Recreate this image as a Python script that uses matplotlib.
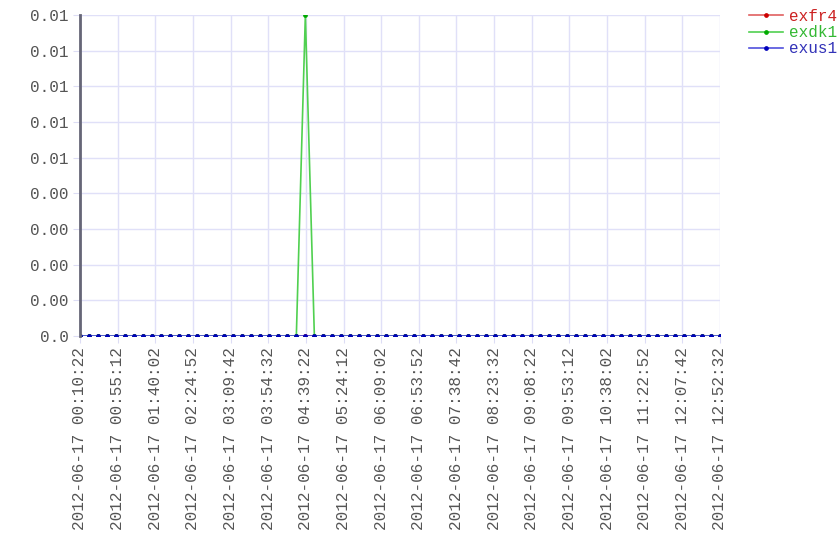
import numpy as np
import pandas as pd
import matplotlib
matplotlib.use('Agg')
import matplotlib.pyplot as plt

# series: 72 samples between first and last tick, one spike on exdk1
start = "2012-06-17 00:10:22"
end = "2012-06-17 12:52:32"
n_points = 72
exfr4 = [0.0] * n_points
exdk1 = [0.0] * n_points
exdk1[25] = 0.009
exus1 = [0.0] * n_points

series_names = ["exfr4", "exdk1", "exus1"]
line_colors = ["#e06060", "#50d050", "#5050dd"]
mark_colors = ["#cc0000", "#00aa00", "#0000bb"]
text_colors = ["#cc2222", "#33b833", "#3333b8"]

tick_times = pd.date_range(start, end, freq="2690s")
y_ticks = [0.0, 0.001, 0.002, 0.003, 0.004, 0.005, 0.006, 0.007, 0.008, 0.009]
y_labels = ["0.0", "0.00", "0.00", "0.00", "0.00", "0.01", "0.01", "0.01", "0.01", "0.01"]

times = pd.date_range(start, end, periods=n_points)

plt.rcParams['font.family'] = ['Liberation Mono', 'DejaVu Sans Mono']

fig = plt.figure(figsize=(8.4, 5.6), dpi=100)
ax = fig.add_axes([80 / 840, 1 - 336 / 560, 640 / 840, 321 / 560])

lines = []
for name, vals, lc, mc in zip(series_names, [exfr4, exdk1, exus1], line_colors, mark_colors):
    ln, = ax.plot(times, vals, color=lc, lw=1.2, marker='o', ms=2.4,
                  mfc=mc, mec=mc, label=name)
    lines.append(ln)

ax.set_xlim(times[0], times[-1])
ax.set_ylim(0, 0.009)
ax.set_xticks(tick_times)
ax.set_xticklabels([t.strftime("%Y-%m-%d %H:%M:%S") for t in tick_times], rotation=90)
ax.set_yticks(y_ticks)
ax.set_yticklabels(y_labels)
ax.tick_params(colors="#ddddf5", labelcolor="#555555", labelsize=11.5, length=5, pad=3)

ax.grid(True, color="#e0e0f8", lw=1)
ax.set_axisbelow(True)
for s in ["top", "right", "bottom"]:
    ax.spines[s].set_visible(False)
ax.spines["left"].set_color("#666677")
ax.spines["left"].set_linewidth(2)

leg = fig.legend(handles=lines, loc="upper left", bbox_to_anchor=(749 / 840, 1 - 9 / 560),
                 frameon=False, fontsize=11.5, handlelength=2.1, borderpad=0,
                 borderaxespad=0, labelspacing=0.07, handletextpad=0.4)
for txt, col in zip(leg.get_texts(), text_colors):
    txt.set_color(col)

fig.savefig("out.png", dpi=100)
